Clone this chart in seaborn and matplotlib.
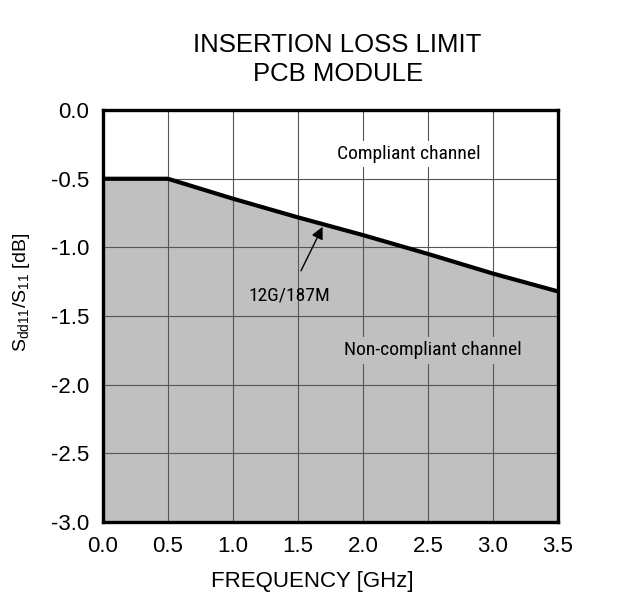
import matplotlib
matplotlib.use("Agg")
import matplotlib.pyplot as plt
from matplotlib import font_manager
import seaborn as sns
import pandas as pd

# limit curve (GHz, dB)
freq_ghz = [0.0, 0.5, 1.0, 1.5, 2.0, 2.5, 3.0, 3.5]
loss_db = [-0.5, -0.5, -0.645, -0.781, -0.91, -1.047, -1.19, -1.32]
x_ticks = [0.0, 0.5, 1.0, 1.5, 2.0, 2.5, 3.0, 3.5]
y_ticks = [0.0, -0.5, -1.0, -1.5, -2.0, -2.5, -3.0]

sns.set_theme(style="white")
plt.rcParams['font.family'] = ['Liberation Sans', 'DejaVu Sans']
for key in ["text.color", "axes.labelcolor", "xtick.color", "ytick.color"]:
    plt.rcParams[key] = "black"

# the in-plot notes use a narrow face, if one is around
installed = {f.name for f in font_manager.fontManager.ttflist}
narrow_name = None
for cand in ["Liberation Sans Narrow", "Roboto Condensed", "Open Sans Condensed",
             "Noto Sans Condensed", "DejaVu Sans Condensed"]:
    if cand in installed:
        narrow_name = cand
        break
if narrow_name:
    narrow = [narrow_name, 'Liberation Sans', 'DejaVu Sans']
    note_size = 14
else:
    narrow = ['Liberation Sans', 'DejaVu Sans']
    note_size = 13

df = pd.DataFrame({"freq": freq_ghz, "loss": loss_db})

fig = plt.figure(figsize=(6.24, 6.15), dpi=100)
ax = fig.add_axes([0.165, 0.151, 0.729, 0.670])

# shaded non-compliant area under the limit
ax.fill_between(df["freq"], df["loss"], -3.0, color="#c0c0c0", lw=0, zorder=1)
sns.lineplot(data=df, x="freq", y="loss", color="black", lw=3, ax=ax, zorder=4)

ax.set_xlim(0, 3.5)
ax.set_ylim(-3.0, 0.0)
ax.set_xticks(x_ticks)
ax.set_yticks(y_ticks)
ax.set_xticklabels([f"{v:.1f}" for v in x_ticks], fontsize=16)
ax.set_yticklabels([f"{v:.1f}" for v in y_ticks], fontsize=16)
ax.tick_params(length=0, pad=10)

ax.set_axisbelow(False)
ax.grid(True, color="#555555", lw=0.8)
for s in ax.spines.values():
    s.set_color("black")
    s.set_linewidth(2.4)
    s.set_zorder(5)

ax.set_title("INSERTION LOSS LIMIT\nPCB MODULE", fontsize=18.5, pad=21,
             linespacing=1.25, x=0.516)
ax.set_xlabel("FREQUENCY [GHz]", fontsize=16)
ax.xaxis.set_label_coords(0.46, -0.118)
ax.set_ylabel(r"$\mathregular{S_{dd11}/S_{11}}$ [dB]", fontsize=14)
ax.yaxis.set_label_coords(-0.157, 0.558)

ax.text(2.35, -0.32, "Compliant channel", family=narrow, fontsize=note_size,
        ha="center", va="center", zorder=6,
        bbox=dict(facecolor="white", edgecolor="none", pad=3))
ax.text(2.54, -1.75, "Non-compliant channel", family=narrow, fontsize=note_size,
        ha="center", va="center", zorder=6,
        bbox=dict(facecolor="#c0c0c0", edgecolor="none", pad=3))
ax.annotate("12G/187M", xy=(1.69, -0.85), xytext=(1.43, -1.35),
            family=narrow, fontsize=note_size, ha="center", va="center", zorder=6,
            arrowprops=dict(arrowstyle="-|>", color="black", lw=1,
                            mutation_scale=18, shrinkA=10, shrinkB=0))

fig.savefig("out.png", dpi=100)
